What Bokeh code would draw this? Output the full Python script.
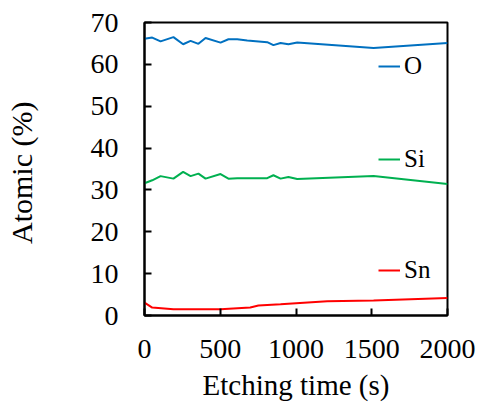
from bokeh.plotting import figure
from bokeh.models import Legend, LegendItem, Range1d, FixedTicker
from bokeh.embed import file_html
from bokeh.resources import INLINE

# Data
time_s = [0, 51, 106, 191, 255, 304, 356, 403, 502, 554, 612, 678, 810, 851, 898, 950, 1008, 1512, 2000]
o_pct = [66.1, 66.4, 65.5, 66.5, 64.8, 65.6, 64.9, 66.3, 65.2, 66.0, 66.0, 65.7, 65.3, 64.6, 65.1, 64.8, 65.2, 63.9, 65.1]
si_pct = [31.6, 32.3, 33.3, 32.7, 34.3, 33.3, 33.9, 32.7, 33.8, 32.7, 32.8, 32.8, 32.8, 33.5, 32.7, 33.1, 32.6, 33.3, 31.4]
sn_time = [0, 51, 191, 502, 698, 752, 898, 1206, 1512, 2000]
sn_pct = [3.1, 1.9, 1.5, 1.5, 1.9, 2.4, 2.7, 3.4, 3.6, 4.2]

x_ticks = [0, 500, 1000, 1500, 2000]
y_ticks = [0, 10, 20, 30, 40, 50, 60, 70]

FONT = "Times New Roman"

p = figure(width=479, height=403, output_backend="svg", toolbar_location=None,
           x_range=Range1d(0, 2000), y_range=Range1d(0, 70),
           min_border_left=144, min_border_right=32, min_border_top=22, min_border_bottom=86)
p.background_fill_color = "white"
p.border_fill_color = "white"
p.outline_line_color = "black"
p.outline_line_width = 2
p.grid.visible = False

r_o = p.line(time_s, o_pct, line_color="#0070C0", line_width=2)
r_si = p.line(time_s, si_pct, line_color="#00B050", line_width=2)
r_sn = p.line(sn_time, sn_pct, line_color="#FF0000", line_width=2)

for ax in (p.xaxis[0], p.yaxis[0]):
    ax.axis_line_color = "black"
    ax.axis_line_width = 2
    ax.major_tick_line_color = "black"
    ax.major_tick_line_width = 2
    ax.major_tick_in = 7
    ax.major_tick_out = 0
    ax.minor_tick_line_color = None
    ax.major_label_text_font = FONT
    ax.major_label_text_font_size = "28px"
    ax.major_label_text_color = "black"
    ax.axis_label_text_font = FONT
    ax.axis_label_text_font_style = "normal"
    ax.axis_label_text_color = "black"

p.xaxis[0].axis_label_text_font_size = "29px"
p.yaxis[0].axis_label_text_font_size = "30px"
p.xaxis[0].ticker = FixedTicker(ticks=x_ticks)
p.yaxis[0].ticker = FixedTicker(ticks=y_ticks)
p.xaxis[0].axis_label = "Etching time (s)"
p.yaxis[0].axis_label = "Atomic  (%)"
p.xaxis[0].major_label_standoff = 24
p.yaxis[0].major_label_standoff = 26
p.xaxis[0].axis_label_standoff = 8
p.yaxis[0].axis_label_standoff = 50

for name, rend, loc in (("O", r_o, (234, 235)), ("Si", r_si, (234, 142)), ("Sn", r_sn, (234, 31))):
    lg = Legend(items=[LegendItem(label=name, renderers=[rend])], location=loc,
                background_fill_alpha=0, border_line_color=None, padding=0, margin=0,
                glyph_width=22, glyph_height=20, label_standoff=4,
                label_text_font=FONT, label_text_font_size="25px", label_text_color="black")
    p.add_layout(lg)

open("out.html", "w").write(file_html(p, INLINE))
